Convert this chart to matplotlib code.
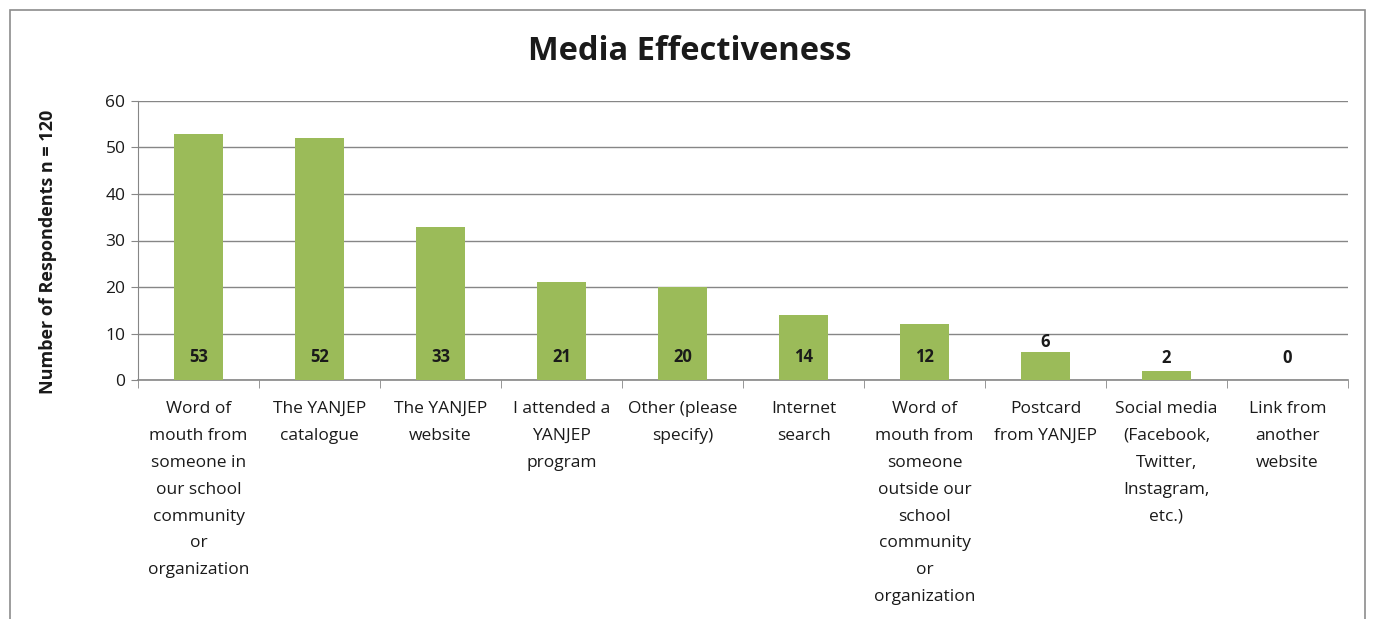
import matplotlib.pyplot as plt
from matplotlib.patches import Rectangle

# survey answers, wrapped the way they appear under the bars
categories = [
    "Word of\nmouth from\nsomeone in\nour school\ncommunity\nor\norganization",
    "The YANJEP\ncatalogue",
    "The YANJEP\nwebsite",
    "I attended a\nYANJEP\nprogram",
    "Other (please\nspecify)",
    "Internet\nsearch",
    "Word of\nmouth from\nsomeone\noutside our\nschool\ncommunity\nor\norganization",
    "Postcard\nfrom YANJEP",
    "Social media\n(Facebook,\nTwitter,\nInstagram,\netc.)",
    "Link from\nanother\nwebsite",
]
respondents = [53, 52, 33, 21, 20, 14, 12, 6, 2, 0]
y_ticks = [0, 10, 20, 30, 40, 50, 60]

plt.rcParams['font.family'] = ['Open Sans', 'DejaVu Sans']
green = '#9BBB59'
grey = '#868686'
ink = '#1a1a1a'

fig = plt.figure(figsize=(13.76, 6.19), dpi=100)
ax = fig.add_axes([138 / 1376, 1 - 380 / 619, (1348 - 138) / 1376, 279 / 619])

# outer chart frame (runs off the bottom edge)
fig.patches.append(Rectangle((10 / 1376, -0.1), 1355 / 1376, 1 - 10 / 619 + 0.1,
                             transform=fig.transFigure, fill=False,
                             edgecolor='#8c8c8c', linewidth=1.2))

x = list(range(len(respondents)))
ax.bar(x, respondents, width=0.4, color=green, zorder=3)

# labels sit inside the base of the bar; short bars push them above
for xi, v in zip(x, respondents):
    y = 4.9 if v >= 10 else max(4.8, v + 2.1)
    ax.text(xi, y, str(v), ha='center', va='center',
            fontsize=12, fontweight='bold', color=ink, zorder=4)

ax.set_xlim(-0.5, len(respondents) - 0.5)
ax.set_ylim(0, 60)
ax.set_yticks(y_ticks)
ax.tick_params(axis='y', labelsize=12.5, length=5, color=grey, pad=4, labelcolor=ink)

# category labels sit between the boundary ticks
ax.set_xticks(x)
ax.set_xticklabels(categories, fontsize=12.5, linespacing=1.91, color=ink)
ax.tick_params(axis='x', length=0, pad=15)
ax.set_xticks([i - 0.5 for i in range(len(respondents) + 1)], minor=True)
ax.tick_params(axis='x', which='minor', length=6, color=grey)

ax.yaxis.grid(True, color=grey, linewidth=1, zorder=0)
for side in ['top', 'right']:
    ax.spines[side].set_visible(False)
ax.spines['left'].set_color(grey)
ax.spines['bottom'].set_color(grey)
ax.spines['bottom'].set_linewidth(1.2)

fig.text(48 / 1376, 1 - 252 / 619, 'Number of Respondents n = 120', rotation=90,
         ha='center', va='center', fontsize=13, fontweight='bold', color=ink)
fig.text(690 / 1376, 1 - 51 / 619, 'Media Effectiveness', ha='center', va='center',
         fontsize=23.5, fontweight='bold', color=ink)

fig.savefig('out.png', dpi=100)
